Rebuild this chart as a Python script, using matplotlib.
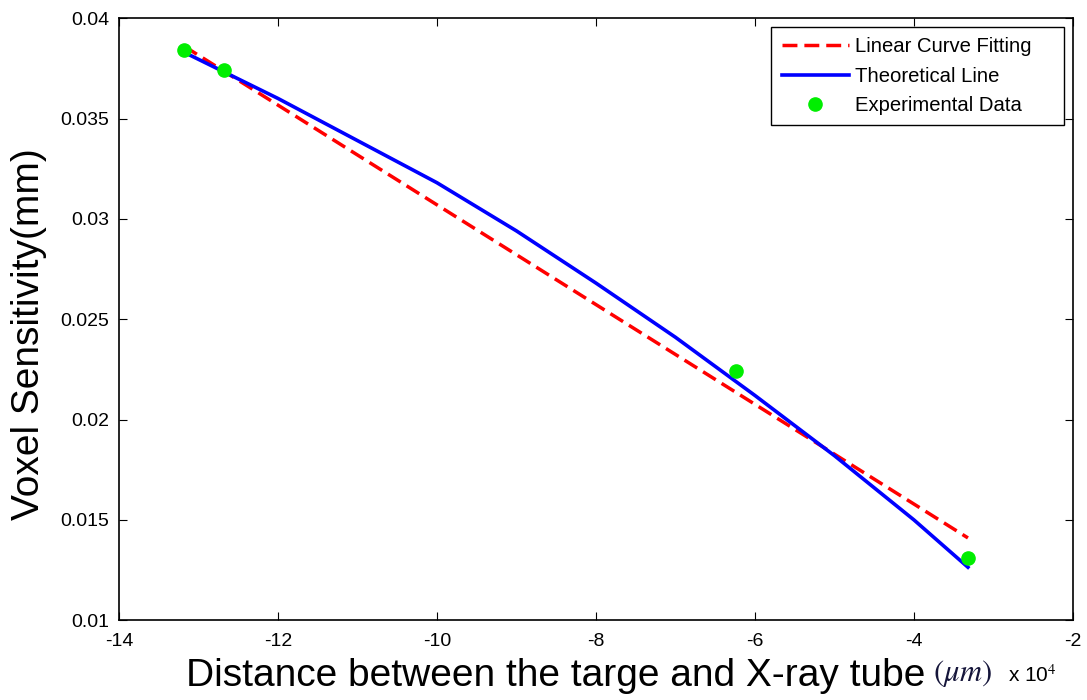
import matplotlib.pyplot as plt
import numpy as np

plt.rcParams['font.family'] = ['Liberation Sans', 'DejaVu Sans']
plt.rcParams['mathtext.fontset'] = 'stix'

# experimental points (x in units of 1e4 um)
exp_x = [-13.18, -12.68, -6.24, -3.32]
exp_y = [0.0384, 0.0374, 0.0224, 0.0131]

# linear curve fitting (end points)
fit_x = [-13.18, -3.32]
fit_y = [0.0386, 0.0141]

# theoretical line
theo_x = [-13.18, -12, -11, -10, -9, -8, -7, -6, -5, -4, -3.32]
theo_y = [0.0383, 0.0360, 0.0339, 0.0318, 0.0294, 0.0268, 0.0241, 0.0212, 0.0182, 0.0150, 0.01264]

xticks = [-14, -12, -10, -8, -6, -4, -2]
yticks = [0.01, 0.015, 0.02, 0.025, 0.03, 0.035, 0.04]
ytick_labels = ['0.01', '0.015', '0.02', '0.025', '0.03', '0.035', '0.04']

fig = plt.figure(figsize=(10.87, 7), dpi=100)
ax = fig.add_axes([0.1095, 0.114, 0.8775, 0.86])

ax.plot(fit_x, fit_y, '--', color='red', lw=2.5, dashes=(4.3, 2), label='Linear Curve Fitting    ')
ax.plot(theo_x, theo_y, '-', color='blue', lw=2.6, label='Theoretical Line')
ax.plot(exp_x, exp_y, 'o', color='#00ee00', ms=9.5, ls='none', label='Experimental Data')

ax.set_xlim(-14, -2)
ax.set_ylim(0.01, 0.04)
ax.set_xticks(xticks)
ax.set_xticklabels([str(t) for t in xticks])
ax.set_yticks(yticks)
ax.set_yticklabels(ytick_labels)
ax.tick_params(direction='in', top=True, right=True, labelsize=14, length=6)
ax.tick_params(axis='x', pad=9)
ax.tick_params(axis='y', pad=7)
for s in ax.spines.values():
    s.set_linewidth(1.2)

ax.set_ylabel('Voxel Sensitivity(mm)', fontsize=28)
ax.yaxis.set_label_coords(-0.075, 0.475)
fig.text(925 / 1087, 0.034, 'Distance between the targe and X-ray tube',
         fontsize=28, ha='right', va='center')
fig.text(933 / 1087, 0.038, r'$(\mu m)$', fontsize=22, ha='left', va='center',
         color='#15153a')
fig.text(1008 / 1087, 0.036, r'x 10$^4$', fontsize=15, ha='left', va='center')

leg = ax.legend(loc='upper right', fontsize=14.6, frameon=True, fancybox=False,
                edgecolor='black', framealpha=1, handlelength=3.3,
                handletextpad=0.3, borderpad=0.5,
                borderaxespad=0.45, labelspacing=0.5)
leg.get_frame().set_linewidth(1.0)

fig.savefig('out.png', dpi=100)
